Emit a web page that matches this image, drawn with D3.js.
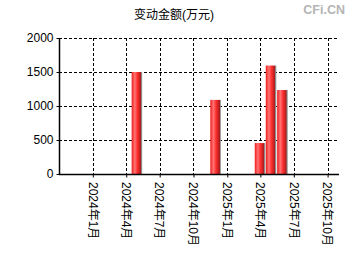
<!DOCTYPE html>
<html>
<head>
<meta charset="utf-8">
<script src="https://cdn.jsdelivr.net/npm/d3@7"></script>
<style>
  html, body { margin: 0; padding: 0; background: #fff; }
  svg { display: block; font-family: "Liberation Sans", Arial, "Noto Sans CJK SC", sans-serif; }
</style>
</head>
<body>
<svg id="chart" width="350" height="260"></svg>
<script>
// data
const dates = ['2024-04-30', '2024-11-30', '2025-03-31', '2025-04-30', '2025-05-31']
const values = [1500, 1090, 455, 1595, 1235]
const yTicks = [0, 500, 1000, 1500, 2000]
const xTicks = ['2024-01-01', '2024-04-01', '2024-07-01', '2024-10-01', '2025-01-01', '2025-04-01', '2025-07-01', '2025-10-01']
const xDomain = ['2023-10-01', '2025-11-01']

const parse = d3.timeParse('%Y-%m-%d')
const data = dates.map((d, i) => ({ date: parse(d), value: values[i] }))

const width = 350
const height = 260
const margin = { top: 38, right: 11, bottom: 86, left: 59 }
const barWidth = 10.5

const svg = d3.select('#chart')

const x = d3.scaleTime()
  .domain(xDomain.map(parse))
  .range([margin.left, width - margin.right])

const y = d3.scaleLinear()
  .domain([0, 2000])
  .range([height - margin.bottom, margin.top])

// bar gradient
const grad = svg.append('defs').append('linearGradient')
  .attr('id', 'barGrad')
  .attr('x1', '0%').attr('x2', '100%')
  .attr('y1', '0%').attr('y2', '0%')
grad.selectAll('stop')
  .data([
    ['0%', '#ee1c1c'],
    ['30%', '#ff7474'],
    ['55%', '#ff2e2e'],
    ['88%', '#a81c1c'],
    ['90%', '#8a8a8a'],
    ['100%', '#8a8a8a'],
  ])
  .join('stop')
  .attr('offset', (d) => d[0])
  .attr('stop-color', (d) => d[1])

// title
svg.append('text')
  .attr('x', 174)
  .attr('y', 19)
  .attr('text-anchor', 'middle')
  .attr('font-size', 12)
  .attr('fill', '#000')
  .text('变动金额(万元)')

svg.append('text')
  .attr('x', 345)
  .attr('y', 14)
  .attr('text-anchor', 'end')
  .attr('font-size', 12.5)
  .attr('font-weight', 'bold')
  .attr('fill', '#b4b4b4')
  .text('CFi.CN')

// grid
const grid = svg.append('g')
  .attr('stroke', '#000')
  .attr('stroke-width', 1)
  .attr('stroke-dasharray', '3,2')

grid.selectAll('.hgrid')
  .data(yTicks.filter((d) => d > 0))
  .join('line')
  .attr('x1', margin.left)
  .attr('x2', width - margin.right)
  .attr('y1', (d) => Math.round(y(d)) + 0.5)
  .attr('y2', (d) => Math.round(y(d)) + 0.5)

grid.selectAll('.vgrid')
  .data(xTicks.map(parse))
  .join('line')
  .attr('x1', (d) => Math.round(x(d)) + 0.5)
  .attr('x2', (d) => Math.round(x(d)) + 0.5)
  .attr('y1', y(2000))
  .attr('y2', y(0))

// bars
svg.append('g')
  .selectAll('rect')
  .data(data)
  .join('rect')
  .attr('x', (d) => x(d.date) - barWidth / 2)
  .attr('y', (d) => y(d.value))
  .attr('width', barWidth)
  .attr('height', (d) => y(0) - y(d.value))
  .attr('fill', 'url(#barGrad)')

// axes
const yAxis = svg.append('g')
  .attr('transform', `translate(${margin.left + 0.5},0)`)
  .call(d3.axisLeft(y).tickValues(yTicks).tickFormat(d3.format('d')).tickSize(3).tickPadding(3))
yAxis.select('.domain').attr('d', `M0,${y(2000)}V${y(0)}`)

const xAxis = svg.append('g')
  .attr('transform', `translate(0,${Math.round(y(0)) + 0.5})`)
  .call(d3.axisBottom(x).tickValues(xTicks.map(parse)).tickSize(3).tickFormat(''))
xAxis.select('.domain').attr('d', `M${margin.left},0H${width - margin.right}`)

svg.selectAll('.domain').attr('stroke', '#000').attr('stroke-width', 1.5)
svg.selectAll('.tick line').attr('stroke', '#000')
yAxis.selectAll('text')
  .attr('font-size', 12)
  .attr('font-family', '"Liberation Sans", Arial, sans-serif')
  .attr('fill', '#000')

// rotated x labels
const fmt = (d) => `${d.getFullYear()}年${d.getMonth() + 1}月`
svg.append('g')
  .selectAll('text')
  .data(xTicks.map(parse))
  .join('text')
  .attr('transform', (d) => `translate(${x(d)},182) rotate(90)`)
  .attr('dy', '0.35em')
  .attr('font-size', 12)
  .attr('fill', '#000')
  .text(fmt)
</script>
</body>
</html>
